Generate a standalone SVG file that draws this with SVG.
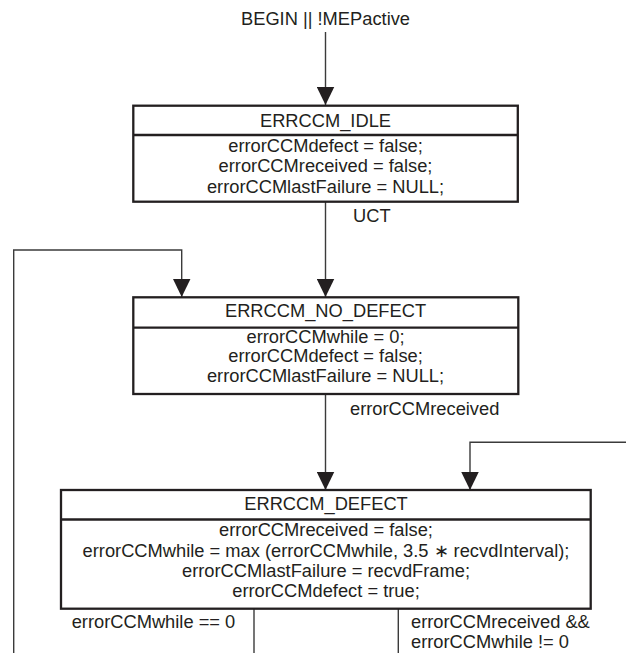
<svg xmlns="http://www.w3.org/2000/svg" width="626" height="653" viewBox="0 0 626 653">
<style>
text{font-family:"Liberation Sans",Arial,sans-serif;font-size:18.3px;fill:#231f20}
.c{text-anchor:middle}
.box{fill:none;stroke:#231f20;stroke-width:2.3}
.ln{fill:none;stroke:#3b3b3b;stroke-width:1.4}
</style>
<defs>
<marker id="ah" markerUnits="userSpaceOnUse" markerWidth="18" markerHeight="18" refX="18" refY="8.75" orient="auto" viewBox="0 0 18 17.5">
<path d="M0,0 L18,8.75 L0,17.5 Z" fill="#231f20"/>
</marker>
</defs>
<rect width="626" height="653" fill="#ffffff"/>
<g id="connectors">
<line class="ln" x1="325.5" y1="32" x2="325.5" y2="105" marker-end="url(#ah)"/>
<line class="ln" x1="325.5" y1="202" x2="325.5" y2="297" marker-end="url(#ah)"/>
<polyline class="ln" points="13.7,653 13.7,250 181.7,250 181.7,297" marker-end="url(#ah)"/>
<line class="ln" x1="325.5" y1="394" x2="325.5" y2="490" marker-end="url(#ah)"/>
<polyline class="ln" points="626,442.3 470,442.3 470,490" marker-end="url(#ah)"/>
<line class="ln" x1="254" y1="609" x2="254" y2="653"/>
<line class="ln" x1="398.3" y1="609" x2="398.3" y2="653"/>
<text class="c" x="325.5" y="25">BEGIN || !MEPactive</text>
<text x="353" y="221.7">UCT</text>
<text x="350" y="415">errorCCMreceived</text>
<text x="71.7" y="628.3">errorCCMwhile == 0</text>
<text x="411" y="628.3">errorCCMreceived &amp;&amp;</text>
<text x="411" y="648.3">errorCCMwhile != 0</text>
</g>
<g id="idle">
<rect class="box" x="133.3" y="105.7" width="384.5" height="96"/>
<line class="box" x1="133.3" y1="135" x2="517.8" y2="135"/>
<text class="c" x="325.5" y="126.7">ERRCCM_IDLE</text>
<text class="c" x="325.5" y="151.7">errorCCMdefect = false;</text>
<text class="c" x="325.5" y="172.2">errorCCMreceived = false;</text>
<text class="c" x="325.5" y="192.7">errorCCMlastFailure = NULL;</text>
</g>
<g id="no_defect">
<rect class="box" x="133.3" y="297.3" width="385" height="96.7"/>
<line class="box" x1="133.3" y1="327.7" x2="518.3" y2="327.7"/>
<text class="c" x="325.5" y="317.3">ERRCCM_NO_DEFECT</text>
<text class="c" x="325.5" y="342.7">errorCCMwhile = 0;</text>
<text class="c" x="325.5" y="362.3">errorCCMdefect = false;</text>
<text class="c" x="325.5" y="381.7">errorCCMlastFailure = NULL;</text>
</g>
<g id="defect">
<rect class="box" x="61" y="490" width="529.7" height="118.7"/>
<line class="box" x1="61" y1="519.5" x2="590.7" y2="519.5"/>
<text class="c" x="326" y="510">ERRCCM_DEFECT</text>
<text class="c" x="326" y="536">errorCCMreceived = false;</text>
<text class="c" x="326" y="556.5">errorCCMwhile = max (errorCCMwhile, 3.5 ∗ recvdInterval);</text>
<text class="c" x="326" y="577">errorCCMlastFailure = recvdFrame;</text>
<text class="c" x="326" y="597.3">errorCCMdefect = true;</text>
</g>
</svg>
